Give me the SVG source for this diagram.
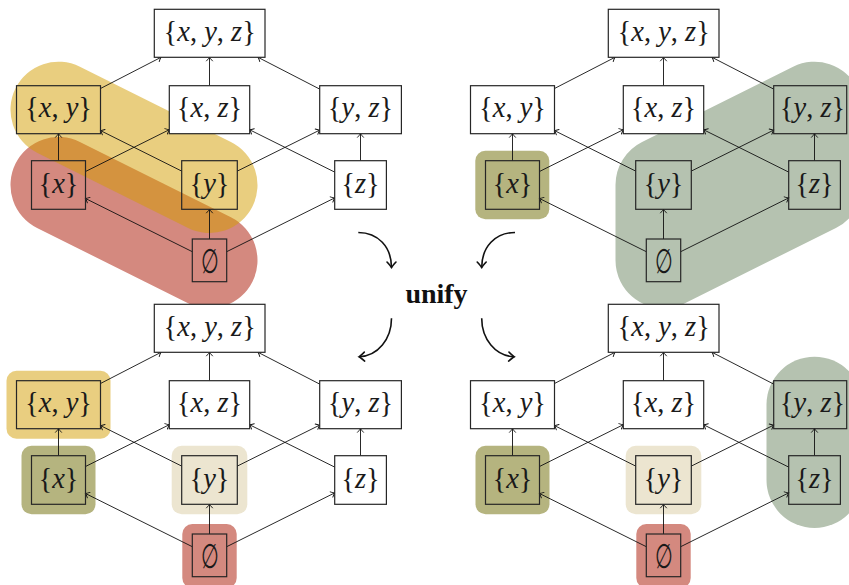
<svg xmlns="http://www.w3.org/2000/svg" width="849" height="585" viewBox="0 0 849 585">
<style>
.box{stroke:#262626;stroke-width:1.2}
.w{fill:#ffffff}
.n{fill:none}
.t{font-family:"Liberation Serif","DejaVu Serif",serif;font-size:28.5px;fill:#1a1a1a;text-anchor:middle}
.i{font-style:italic}
.es{font-family:"DejaVu Serif",serif;font-size:34px;fill:#1a1a1a;text-anchor:middle}
.e{stroke:#111;stroke-width:0.9;fill:none;marker-end:url(#ah)}
.c{stroke:#111;stroke-width:1.6;fill:none;marker-end:url(#ahb)}
.red{fill:#D4897F}
.yel{fill:#E9CE80}
.oli{fill:#B5B47F}
.grn{fill:#B5C2B0}
.bei{fill:#ECE5D0}
</style>
<defs>
<marker id="ah" markerUnits="userSpaceOnUse" markerWidth="10" markerHeight="10" viewBox="-6 -5 8 10" refX="0" refY="0" orient="auto" overflow="visible">
<path d="M-3.6,-3 Q-1,-0.6 0,0 Q-1,0.6 -3.6,3" fill="none" stroke="#111" stroke-width="0.9" stroke-linecap="round"/>
</marker>
<marker id="ahb" markerUnits="userSpaceOnUse" markerWidth="14" markerHeight="14" viewBox="-8 -7 10 14" refX="0" refY="0" orient="auto" overflow="visible">
<path d="M-5.5,-4.5 Q-1.5,-0.9 0,0 Q-1.5,0.9 -5.5,4.5" fill="none" stroke="#111" stroke-width="1.6" stroke-linecap="round"/>
</marker>
</defs>
<rect width="849" height="585" fill="#ffffff"/>

<g id="highlights">
<path d="M58.5,185 L209.5,260.3" stroke="#D4897F" stroke-width="96" stroke-linecap="round" fill="none"/>
<path d="M58.5,109.7 L209.5,185" stroke="#D49E00" stroke-opacity="0.5" stroke-width="96" stroke-linecap="round" fill="none"/>
<rect class="oli" x="475.3" y="150.7" width="74" height="68.6" rx="10"/>
<path d="M663.5,260.3 L663.5,185 L814.5,109.7 L814.5,185 Z" fill="#B5C2B0" stroke="#B5C2B0" stroke-width="96" stroke-linejoin="round"/>
<rect class="yel" x="6.5" y="370.7" width="104" height="68" rx="10"/>
<rect class="oli" x="21.5" y="445.7" width="74" height="68.6" rx="10"/>
<rect class="bei" x="171.7" y="445.7" width="75.6" height="68.6" rx="10"/>
<rect class="red" x="182.3" y="524" width="54.4" height="64" rx="10"/>
<rect class="oli" x="475.5" y="445.7" width="74" height="68.6" rx="10"/>
<rect class="bei" x="625.7" y="445.7" width="75.6" height="68.6" rx="10"/>
<rect class="red" x="636.3" y="524" width="54.4" height="64" rx="10"/>
<path d="M814.5,404.7 L814.5,480" stroke="#B5C2B0" stroke-width="96" stroke-linecap="round" fill="none"/>
</g>

<g id="connectors">
<g id="tl-edges">
<path class="e" d="M192.3,251.7 L85.5,198.5"/>
<path class="e" d="M209.5,239 L209.5,209.3"/>
<path class="e" d="M226.7,251.7 L334.7,197.9"/>
<path class="e" d="M58.5,160.7 L58.5,133.7"/>
<path class="e" d="M85.5,171.5 L169.3,129.7"/>
<path class="e" d="M181.7,171.1 L100.5,130.6"/>
<path class="e" d="M237.3,171.1 L319.7,130.1"/>
<path class="e" d="M334.7,172.1 L249.7,129.8"/>
<path class="e" d="M360.5,160.7 L360.5,133.7"/>
<path class="e" d="M100.5,88.5 L161,57.3"/>
<path class="e" d="M209.5,85.7 L209.5,57.3"/>
<path class="e" d="M319.7,89.1 L258,57.3"/>
</g>
<g id="tr-edges" transform="translate(454,0)">
<path class="e" d="M192.3,251.7 L85.5,198.5"/>
<path class="e" d="M209.5,239 L209.5,209.3"/>
<path class="e" d="M226.7,251.7 L334.7,197.9"/>
<path class="e" d="M58.5,160.7 L58.5,133.7"/>
<path class="e" d="M85.5,171.5 L169.3,129.7"/>
<path class="e" d="M181.7,171.1 L100.5,130.6"/>
<path class="e" d="M237.3,171.1 L319.7,130.1"/>
<path class="e" d="M334.7,172.1 L249.7,129.8"/>
<path class="e" d="M360.5,160.7 L360.5,133.7"/>
<path class="e" d="M100.5,88.5 L161,57.3"/>
<path class="e" d="M209.5,85.7 L209.5,57.3"/>
<path class="e" d="M319.7,89.1 L258,57.3"/>
</g>
<g id="bl-edges" transform="translate(0,295)">
<path class="e" d="M192.3,251.7 L85.5,198.5"/>
<path class="e" d="M209.5,239 L209.5,209.3"/>
<path class="e" d="M226.7,251.7 L334.7,197.9"/>
<path class="e" d="M58.5,160.7 L58.5,133.7"/>
<path class="e" d="M85.5,171.5 L169.3,129.7"/>
<path class="e" d="M181.7,171.1 L100.5,130.6"/>
<path class="e" d="M237.3,171.1 L319.7,130.1"/>
<path class="e" d="M334.7,172.1 L249.7,129.8"/>
<path class="e" d="M360.5,160.7 L360.5,133.7"/>
<path class="e" d="M100.5,88.5 L161,57.3"/>
<path class="e" d="M209.5,85.7 L209.5,57.3"/>
<path class="e" d="M319.7,89.1 L258,57.3"/>
</g>
<g id="br-edges" transform="translate(454,295)">
<path class="e" d="M192.3,251.7 L85.5,198.5"/>
<path class="e" d="M209.5,239 L209.5,209.3"/>
<path class="e" d="M226.7,251.7 L334.7,197.9"/>
<path class="e" d="M58.5,160.7 L58.5,133.7"/>
<path class="e" d="M85.5,171.5 L169.3,129.7"/>
<path class="e" d="M181.7,171.1 L100.5,130.6"/>
<path class="e" d="M237.3,171.1 L319.7,130.1"/>
<path class="e" d="M334.7,172.1 L249.7,129.8"/>
<path class="e" d="M360.5,160.7 L360.5,133.7"/>
<path class="e" d="M100.5,88.5 L161,57.3"/>
<path class="e" d="M209.5,85.7 L209.5,57.3"/>
<path class="e" d="M319.7,89.1 L258,57.3"/>
</g>
<g id="unify-arrows">
<path class="c" d="M358.3,232.5 C378,232.5 391.5,247 391.5,267.5"/>
<path class="c" d="M515,232.5 C495.3,232.5 481.7,247 481.7,267.5"/>
<path class="c" d="M391.5,318.3 C391.5,339 378,356 359,356.8"/>
<path class="c" d="M481.7,318.3 C481.7,339 495.3,356 514.3,356.8"/>
</g>
</g>

<g id="unify"><text x="436.5" y="303" font-family="Liberation Serif, DejaVu Serif, serif" font-size="28" font-weight="bold" text-anchor="middle" fill="#111">unify</text></g>

<g id="lattice-tl">
<g id="tl-xyz"><rect class="box w" x="154.3" y="9.3" width="110.7" height="48"/><text class="t" x="209.7" y="41">{<tspan class="i">x</tspan>, <tspan class="i">y</tspan>, <tspan class="i">z</tspan>}</text></g>
<g id="tl-xy"><rect class="box n" x="16.5" y="85.7" width="84" height="48"/><text class="t" x="58.5" y="117.4">{<tspan class="i">x</tspan>, <tspan class="i">y</tspan>}</text></g>
<g id="tl-xz"><rect class="box w" x="169.3" y="85.7" width="80.4" height="48"/><text class="t" x="209.5" y="117.4">{<tspan class="i">x</tspan>, <tspan class="i">z</tspan>}</text></g>
<g id="tl-yz"><rect class="box w" x="319.7" y="85.7" width="81.7" height="48"/><text class="t" x="360.5" y="117.4">{<tspan class="i">y</tspan>, <tspan class="i">z</tspan>}</text></g>
<g id="tl-x"><rect class="box n" x="31.5" y="160.7" width="54" height="48.6"/><text class="t" x="58.5" y="192.7">{<tspan class="i">x</tspan>}</text></g>
<g id="tl-y"><rect class="box n" x="181.7" y="160.7" width="55.6" height="48.6"/><text class="t" x="209.5" y="192.7">{<tspan class="i">y</tspan>}</text></g>
<g id="tl-z"><rect class="box w" x="334.7" y="160.7" width="51.7" height="48.6"/><text class="t" x="360.5" y="192.7">{<tspan class="i">z</tspan>}</text></g>
<g id="tl-empty"><rect class="box n" x="192.3" y="239" width="34.4" height="42.7"/><text class="es" transform="translate(209.5,272.5) scale(0.6,1)">∅</text></g>
</g>

<g id="lattice-tr" transform="translate(454,0)">
<g id="tr-xyz"><rect class="box w" x="154.3" y="9.3" width="110.7" height="48"/><text class="t" x="209.7" y="41">{<tspan class="i">x</tspan>, <tspan class="i">y</tspan>, <tspan class="i">z</tspan>}</text></g>
<g id="tr-xy"><rect class="box w" x="16.5" y="85.7" width="84" height="48"/><text class="t" x="58.5" y="117.4">{<tspan class="i">x</tspan>, <tspan class="i">y</tspan>}</text></g>
<g id="tr-xz"><rect class="box w" x="169.3" y="85.7" width="80.4" height="48"/><text class="t" x="209.5" y="117.4">{<tspan class="i">x</tspan>, <tspan class="i">z</tspan>}</text></g>
<g id="tr-yz"><rect class="box n" x="319.7" y="85.7" width="73" height="48"/><text class="t" x="358.5" y="117.4">{<tspan class="i">y</tspan>, <tspan class="i">z</tspan>}</text></g>
<g id="tr-x"><rect class="box n" x="31.5" y="160.7" width="54" height="48.6"/><text class="t" x="58.5" y="192.7">{<tspan class="i">x</tspan>}</text></g>
<g id="tr-y"><rect class="box n" x="181.7" y="160.7" width="55.6" height="48.6"/><text class="t" x="209.5" y="192.7">{<tspan class="i">y</tspan>}</text></g>
<g id="tr-z"><rect class="box n" x="334.7" y="160.7" width="51.7" height="48.6"/><text class="t" x="360.5" y="192.7">{<tspan class="i">z</tspan>}</text></g>
<g id="tr-empty"><rect class="box n" x="192.3" y="239" width="34.4" height="42.7"/><text class="es" transform="translate(209.5,272.5) scale(0.6,1)">∅</text></g>
</g>

<g id="lattice-bl" transform="translate(0,295)">
<g id="bl-xyz"><rect class="box w" x="154.3" y="9.3" width="110.7" height="48"/><text class="t" x="209.7" y="41">{<tspan class="i">x</tspan>, <tspan class="i">y</tspan>, <tspan class="i">z</tspan>}</text></g>
<g id="bl-xy"><rect class="box n" x="16.5" y="85.7" width="84" height="48"/><text class="t" x="58.5" y="117.4">{<tspan class="i">x</tspan>, <tspan class="i">y</tspan>}</text></g>
<g id="bl-xz"><rect class="box w" x="169.3" y="85.7" width="80.4" height="48"/><text class="t" x="209.5" y="117.4">{<tspan class="i">x</tspan>, <tspan class="i">z</tspan>}</text></g>
<g id="bl-yz"><rect class="box w" x="319.7" y="85.7" width="81.7" height="48"/><text class="t" x="360.5" y="117.4">{<tspan class="i">y</tspan>, <tspan class="i">z</tspan>}</text></g>
<g id="bl-x"><rect class="box n" x="31.5" y="160.7" width="54" height="48.6"/><text class="t" x="58.5" y="192.7">{<tspan class="i">x</tspan>}</text></g>
<g id="bl-y"><rect class="box n" x="181.7" y="160.7" width="55.6" height="48.6"/><text class="t" x="209.5" y="192.7">{<tspan class="i">y</tspan>}</text></g>
<g id="bl-z"><rect class="box w" x="334.7" y="160.7" width="51.7" height="48.6"/><text class="t" x="360.5" y="192.7">{<tspan class="i">z</tspan>}</text></g>
<g id="bl-empty"><rect class="box n" x="192.3" y="239" width="34.4" height="42.7"/><text class="es" transform="translate(209.5,272.5) scale(0.6,1)">∅</text></g>
</g>

<g id="lattice-br" transform="translate(454,295)">
<g id="br-xyz"><rect class="box w" x="154.3" y="9.3" width="110.7" height="48"/><text class="t" x="209.7" y="41">{<tspan class="i">x</tspan>, <tspan class="i">y</tspan>, <tspan class="i">z</tspan>}</text></g>
<g id="br-xy"><rect class="box w" x="16.5" y="85.7" width="84" height="48"/><text class="t" x="58.5" y="117.4">{<tspan class="i">x</tspan>, <tspan class="i">y</tspan>}</text></g>
<g id="br-xz"><rect class="box w" x="169.3" y="85.7" width="80.4" height="48"/><text class="t" x="209.5" y="117.4">{<tspan class="i">x</tspan>, <tspan class="i">z</tspan>}</text></g>
<g id="br-yz"><rect class="box n" x="319.7" y="85.7" width="73" height="48"/><text class="t" x="358.5" y="117.4">{<tspan class="i">y</tspan>, <tspan class="i">z</tspan>}</text></g>
<g id="br-x"><rect class="box n" x="31.5" y="160.7" width="54" height="48.6"/><text class="t" x="58.5" y="192.7">{<tspan class="i">x</tspan>}</text></g>
<g id="br-y"><rect class="box n" x="181.7" y="160.7" width="55.6" height="48.6"/><text class="t" x="209.5" y="192.7">{<tspan class="i">y</tspan>}</text></g>
<g id="br-z"><rect class="box n" x="334.7" y="160.7" width="51.7" height="48.6"/><text class="t" x="360.5" y="192.7">{<tspan class="i">z</tspan>}</text></g>
<g id="br-empty"><rect class="box n" x="192.3" y="239" width="34.4" height="42.7"/><text class="es" transform="translate(209.5,272.5) scale(0.6,1)">∅</text></g>
</g>
</svg>
